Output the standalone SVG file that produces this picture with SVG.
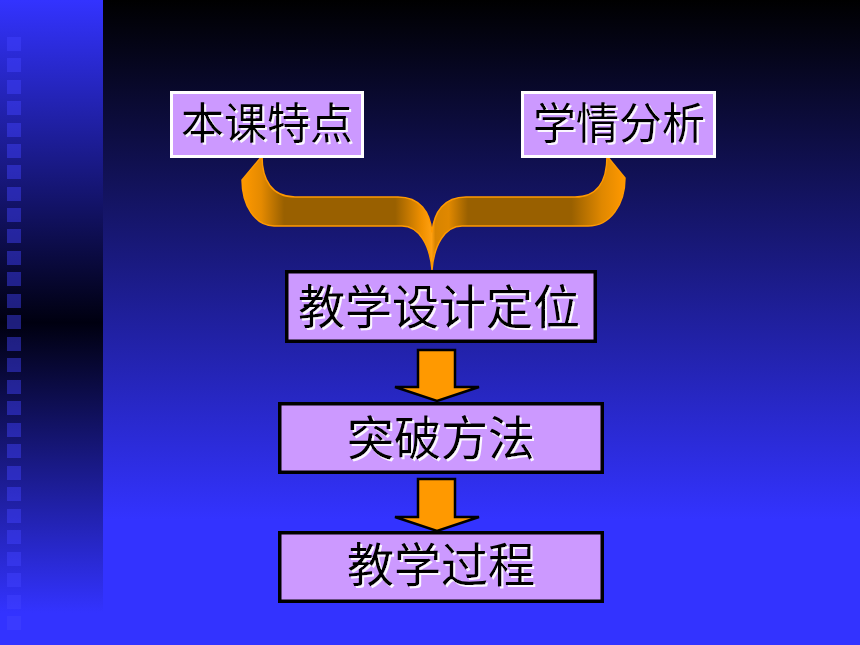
<svg xmlns="http://www.w3.org/2000/svg" width="860" height="645" viewBox="0 0 860 645">
<defs>
  <linearGradient id="bgMain" gradientUnits="userSpaceOnUse" x1="0" y1="0" x2="0" y2="520">
    <stop offset="0" stop-color="#000000"/>
    <stop offset="1" stop-color="#3333ff"/>
  </linearGradient>
  <linearGradient id="bgStrip" gradientUnits="userSpaceOnUse" x1="0" y1="0" x2="0" y2="645">
    <stop offset="0" stop-color="#3333ff"/>
    <stop offset="0.5" stop-color="#000010"/>
    <stop offset="0.95" stop-color="#3333ff"/>
    <stop offset="1" stop-color="#3333ff"/>
  </linearGradient>
  <linearGradient id="brace" gradientUnits="userSpaceOnUse" x1="242" y1="0" x2="625" y2="0">
    <stop offset="0" stop-color="#ff9900"/>
    <stop offset="0.05" stop-color="#e58a00"/>
    <stop offset="0.11" stop-color="#996000"/>
    <stop offset="0.40" stop-color="#996000"/>
    <stop offset="0.47" stop-color="#f09000"/>
    <stop offset="0.495" stop-color="#ffa010"/>
    <stop offset="0.505" stop-color="#d88400"/>
    <stop offset="0.54" stop-color="#e08800"/>
    <stop offset="0.59" stop-color="#996000"/>
    <stop offset="0.86" stop-color="#996000"/>
    <stop offset="0.94" stop-color="#e08800"/>
    <stop offset="1" stop-color="#ff9900"/>
  </linearGradient>
  <filter id="shadow" x="-5%" y="-10%" width="115%" height="130%">
    <feDropShadow dx="2" dy="2" stdDeviation="0.6" flood-color="#ffffff" flood-opacity="0.9"/>
  </filter>
  <path id="sq" d="M0,0h14v14h-14z"/>
</defs>
<style>
  .box { fill: #cc99ff; }
  .top { stroke: #ffffff; stroke-width: 3; }
  .main { stroke: #000000; stroke-width: 3.5; }
  .lbl { font-family: "Noto Sans CJK SC", "Noto Sans", sans-serif; fill: #000000; text-anchor: middle; filter: url(#shadow); }
  .arrow { fill: #ff9900; stroke: #000000; stroke-width: 2.5; stroke-linejoin: miter; }
  .sq { fill: #4242ff; opacity: 0.45; }
</style>

<!-- background -->
<rect x="0" y="0" width="860" height="645" fill="url(#bgMain)"/>
<rect x="0" y="0" width="103" height="645" fill="url(#bgStrip)"/>
<g id="strip-squares">
  <use href="#sq" class="sq" x="7" y="37"/>
  <use href="#sq" class="sq" x="7" y="58"/>
  <use href="#sq" class="sq" x="7" y="80"/>
  <use href="#sq" class="sq" x="7" y="101"/>
  <use href="#sq" class="sq" x="7" y="123"/>
  <use href="#sq" class="sq" x="7" y="144"/>
  <use href="#sq" class="sq" x="7" y="165"/>
  <use href="#sq" class="sq" x="7" y="187"/>
  <use href="#sq" class="sq" x="7" y="208"/>
  <use href="#sq" class="sq" x="7" y="229"/>
  <use href="#sq" class="sq" x="7" y="251"/>
  <use href="#sq" class="sq" x="7" y="272"/>
  <use href="#sq" class="sq" x="7" y="294"/>
  <use href="#sq" class="sq" x="7" y="315"/>
  <use href="#sq" class="sq" x="7" y="337"/>
  <use href="#sq" class="sq" x="7" y="358"/>
  <use href="#sq" class="sq" x="7" y="380"/>
  <use href="#sq" class="sq" x="7" y="401"/>
  <use href="#sq" class="sq" x="7" y="423"/>
  <use href="#sq" class="sq" x="7" y="444"/>
  <use href="#sq" class="sq" x="7" y="466"/>
  <use href="#sq" class="sq" x="7" y="487"/>
  <use href="#sq" class="sq" x="7" y="509"/>
  <use href="#sq" class="sq" x="7" y="530"/>
  <use href="#sq" class="sq" x="7" y="552"/>
  <use href="#sq" class="sq" x="7" y="573"/>
  <use href="#sq" class="sq" x="7" y="595"/>
  <use href="#sq" class="sq" x="7" y="616"/>
</g>

<!-- connectors -->
<g id="connectors">
  <path id="brace-shape" d="M262,156 C262,180 272,197 295,197 L398,197 C420,197 430,212 432,232 C434,212 444,197 466,197 L575,197 C598,197 607,180 607,156 L625,178 C625,205 610,226 588,226 L462,226 C445,226 434,245 432,270 C430,245 419,226 402,226 L274,226 C255,226 242,205 242,180 Z" fill="url(#brace)" stroke="#ff9900" stroke-width="1.5" stroke-linejoin="round"/>
  <path class="arrow" d="M418,350 L455,350 L455,387 L479,387 L437,401 L395,387 L418,387 Z"/>
  <path class="arrow" d="M418,479 L455,479 L455,517 L479,517 L437,531 L395,517 L418,517 Z"/>
</g>

<!-- nodes -->
<g id="node-benke">
  <rect class="box top" x="171.5" y="92.5" width="191" height="64"/>
  <text class="lbl" x="267" y="139" font-size="43">本课特点</text>
</g>
<g id="node-xueqing">
  <rect class="box top" x="522.5" y="92.5" width="192" height="64"/>
  <text class="lbl" x="619" y="139" font-size="43">学情分析</text>
</g>
<g id="node-dingwei">
  <rect class="box main" x="286.75" y="271.75" width="308.5" height="69.5"/>
  <text class="lbl" x="439" y="324" font-size="47">教学设计定位</text>
</g>
<g id="node-tupo">
  <rect class="box main" x="279.75" y="403.75" width="322.5" height="68.5"/>
  <text class="lbl" x="441" y="455" font-size="47">突破方法</text>
</g>
<g id="node-guocheng">
  <rect class="box main" x="279.75" y="532.75" width="322.5" height="68.5"/>
  <text class="lbl" x="441" y="582" font-size="47">教学过程</text>
</g>
</svg>
